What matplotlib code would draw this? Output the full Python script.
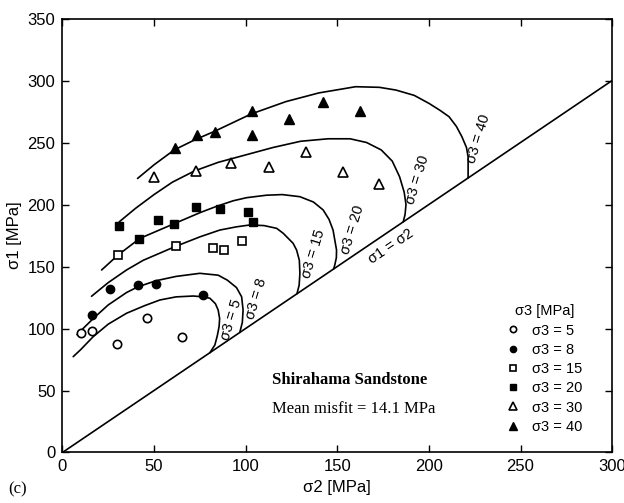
import matplotlib
matplotlib.use("Agg")
import matplotlib.pyplot as plt
from matplotlib.lines import Line2D

# ---------------- data ----------------
s3_levels = [5, 8, 15, 20, 30, 40]

# measured points (sigma2, sigma1)
pts5_s2 = [9.9, 16.3, 29.9, 45.9, 65.4]
pts5_s1 = [96.1, 97.7, 87.5, 108.5, 93.4]
pts8_s2 = [16.1, 26.1, 41.0, 51.2, 76.5]
pts8_s1 = [110.6, 131.6, 135.3, 136.1, 127.3]
pts15_s2 = [30.4, 61.9, 82.2, 88.1, 98.1]
pts15_s1 = [159.3, 166.5, 165.2, 163.1, 170.6]
pts20_s2 = [31.0, 41.9, 51.9, 61.0, 72.8, 86.1, 101.2, 103.9]
pts20_s1 = [182.7, 172.2, 187.5, 184.3, 197.8, 196.1, 193.7, 186.1]
pts30_s2 = [50.2, 72.8, 91.9, 112.8, 132.8, 152.9, 172.7]
pts30_s1 = [222.0, 227.0, 233.7, 230.5, 242.6, 226.5, 216.5]
pts40_s2 = [61.4, 73.2, 83.2, 103.2, 103.2, 123.7, 142.3, 162.3]
pts40_s1 = [245.3, 256.0, 258.7, 275.6, 256.0, 268.7, 282.9, 275.6]

# fitted failure curves (sigma2, sigma1)
c5_s2 = [5.9, 10, 16.8, 25, 35, 45, 53.2, 62, 71.4, 77, 80.5, 83.5, 85, 85.8, 85.5, 84.5, 83.2, 80.5]
c5_s1 = [77.3, 83, 93.4, 103.5, 112.3, 118.5, 123, 125.5, 126.2, 125.5, 124.4, 120, 114.9, 108, 101.5, 94, 86.7, 80.5]
c8_s2 = [8, 12, 16.8, 25, 35, 41, 51, 62, 75, 85, 90, 95, 97.8, 98.6, 98.2, 96.8]
c8_s1 = [95, 101, 108, 119, 129, 133.5, 138.5, 142, 144.5, 143, 139, 133, 125.6, 115, 105, 96.8]
c15_s2 = [15.9, 25, 35, 44.1, 61.4, 75.2, 85.9, 95, 102.3, 110, 116.9, 120.5, 125.9, 127.8, 129.3, 129.6, 129.2, 128]
c15_s1 = [126, 137, 147.2, 155, 166, 174, 179.4, 182, 183.5, 183, 180.8, 176.8, 168.7, 163.3, 155, 144.5, 135, 128]
c20_s2 = [21.4, 30.4, 42.3, 61.4, 75.2, 84.1, 93.2, 100.5, 111.4, 120, 129.6, 137, 142.3, 145.5, 147.7, 149.6, 149.5, 148.6, 148]
c20_s1 = [147.2, 159.3, 172.7, 184.8, 193.5, 198.5, 203, 205.5, 207.5, 208, 206.3, 202, 195.6, 188, 179.4, 163.3, 157, 151, 148]
c30_s2 = [31, 40, 50, 60, 72, 85, 100, 115, 130, 145, 157, 166, 174, 180, 184, 186.5, 187.5, 187, 186]
c30_s1 = [186, 197, 208, 218, 227, 234, 240, 246, 251, 253, 253, 250, 244, 235, 222.4, 210, 200, 192, 186]
c40_s2 = [41, 50, 61, 72, 83, 103, 122, 140, 160, 173, 182, 192, 200, 206, 211, 215, 218, 220.5, 221.4, 221.4]
c40_s1 = [221, 232, 244, 252, 259, 273, 283, 290, 295, 294.5, 292.3, 288, 281.6, 276, 270.8, 263, 254.7, 246, 238.5, 221.4]

# sigma1 = sigma2 line
diag_s2 = [0, 300]
diag_s1 = [0, 300]

curve_labels = ["σ3 = 5", "σ3 = 8", "σ3 = 15", "σ3 = 20", "σ3 = 30", "σ3 = 40"]
label_pos_s2 = [92, 106, 137, 158.5, 194, 227]
label_pos_s1 = [107, 124, 160, 180, 220, 253]

xticks = [0, 50, 100, 150, 200, 250, 300]
yticks = [0, 50, 100, 150, 200, 250, 300, 350]

# ---------------- figure ----------------
plt.rcParams['font.family'] = ['Liberation Sans', 'DejaVu Sans']
fig = plt.figure(figsize=(6.24, 5.03), dpi=100)
ax = fig.add_axes([0.1, 0.1004, 0.881, 0.8628])

lw = 1.2
for xs, ys in [(c5_s2, c5_s1), (c8_s2, c8_s1), (c15_s2, c15_s1), (c20_s2, c20_s1),
               (c30_s2, c30_s1), (c40_s2, c40_s1)]:
    ax.plot(xs, ys, color='black', lw=lw, solid_joinstyle='round', solid_capstyle='round')
ax.plot(diag_s2, diag_s1, color='black', lw=lw)

ms = 6
ax.plot(pts5_s2, pts5_s1, 'o', mfc='white', mec='black', mew=1.2, ms=ms, ls='none')
ax.plot(pts8_s2, pts8_s1, 'o', mfc='black', mec='black', ms=ms, ls='none')
ax.plot(pts15_s2, pts15_s1, 's', mfc='white', mec='black', mew=1.2, ms=5.5, ls='none')
ax.plot(pts20_s2, pts20_s1, 's', mfc='black', mec='black', ms=5.5, ls='none')
ax.plot(pts30_s2, pts30_s1, '^', mfc='white', mec='black', mew=1.2, ms=7, ls='none')
ax.plot(pts40_s2, pts40_s1, '^', mfc='black', mec='black', ms=7, ls='none')

for lab, x, y in zip(curve_labels, label_pos_s2, label_pos_s1):
    ax.text(x, y, lab, rotation=73, ha='center', va='center', fontsize=10.5)
ax.text(179.5, 166.5, "σ1 = σ2", rotation=34, ha='center', va='center', fontsize=10.5)

ax.text(114.3, 58.5, "Shirahama Sandstone", fontfamily='Liberation Serif',
        fontweight='bold', fontsize=12, ha='left', va='center')
ax.text(114.3, 35, "Mean misfit = 14.1 MPa", fontfamily='Liberation Serif',
        fontsize=12, ha='left', va='center')

ax.set_xlim(0, 300)
ax.set_ylim(0, 350)
ax.set_xticks(xticks)
ax.set_yticks(yticks)
ax.tick_params(direction='in', top=True, right=True, length=5, labelsize=12, width=1,
               pad=5)
for sp in ax.spines.values():
    sp.set_linewidth(1.2)
ax.set_xlabel("σ2 [MPa]", fontsize=12, labelpad=4)
ax.set_ylabel("σ1 [MPa]", fontsize=12, labelpad=4)

handles = [
    Line2D([], [], marker='o', mfc='white', mec='black', mew=1.2, ls='none', ms=4.5),
    Line2D([], [], marker='o', mfc='black', mec='black', ls='none', ms=4.5),
    Line2D([], [], marker='s', mfc='white', mec='black', mew=1.2, ls='none', ms=4.5),
    Line2D([], [], marker='s', mfc='black', mec='black', ls='none', ms=4.5),
    Line2D([], [], marker='^', mfc='white', mec='black', mew=1.2, ls='none', ms=5.5),
    Line2D([], [], marker='^', mfc='black', mec='black', ls='none', ms=5.5),
]
leg = ax.legend(handles, [f"σ3 = {v}" for v in s3_levels], title="σ3 [MPa]",
                loc='upper left', bbox_to_anchor=(0.79, 0.365), frameon=False,
                fontsize=10.5, title_fontsize=10.5, handlelength=0.8,
                handletextpad=0.95, labelspacing=0.36, borderpad=0.2)

fig.text(0.014, 0.02, "(c)", fontfamily='Liberation Serif', fontsize=12)

fig.savefig("out.png", dpi=100)
